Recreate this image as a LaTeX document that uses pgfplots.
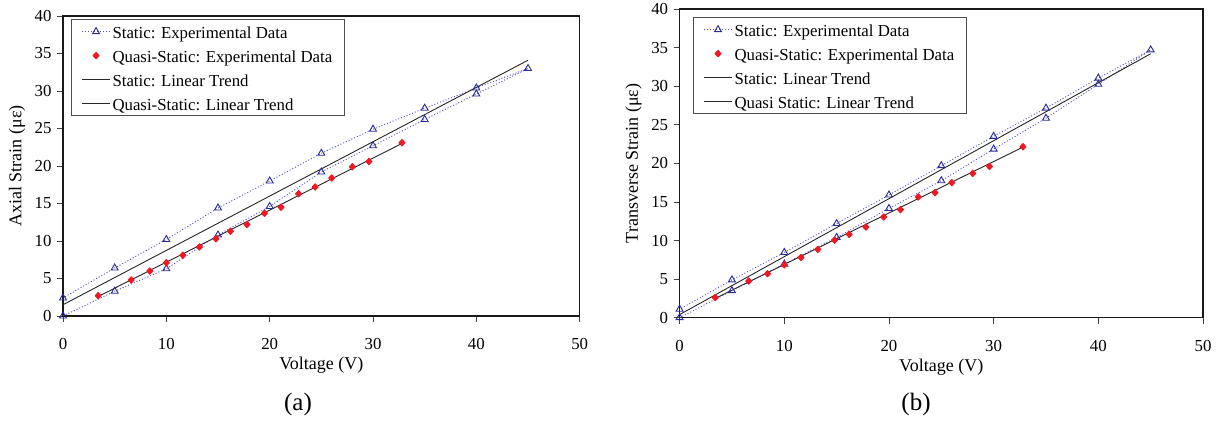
\documentclass[border=0pt]{standalone}
\usepackage{fontspec}
\setmainfont{Liberation Serif}
\usepackage{pgfplots}
\pgfplotsset{compat=1.18}
\definecolor{sblue}{RGB}{40,40,155}
\definecolor{dblue}{RGB}{80,80,200}
\definecolor{qred}{RGB}{240,25,35}
\begin{document}
\begin{tikzpicture}[x=1pt,y=1pt]
\pgfplotsset{
  myax/.style={
    scale only axis, anchor=origin,
    xmin=0,xmax=50,ymin=0,ymax=40,
    xtick={0,10,...,50}, ytick={0,5,...,40},
    tick align=outside, major tick length=6pt, tick pos=left,
    tick style={black!75, line width=0.8pt},
    /pgf/number format/assume math mode=true,
    ticklabel style={font=\fontsize{16.8}{18}\selectfont},
    xticklabel style={yshift=-13pt},
    yticklabel style={xshift=-2pt},
    label style={font=\fontsize{18}{20}\selectfont},
    xlabel style={at={(axis description cs:0.5,0)}, anchor=center, yshift=-49pt},
    ylabel style={at={(axis description cs:0,0.5)}, anchor=center, yshift=46pt},
    axis line style={black!90, line width=1.2pt},
    legend cell align=left,
    legend style={font=\fontsize{16.8}{18}\selectfont, draw=black!70, line width=1.2pt,
      inner xsep=10pt, inner ysep=4pt, row sep=8pt, column sep=0pt,
      nodes={inner xsep=2pt, inner ysep=0pt, text height=15pt, text depth=1pt}},
    legend image code/.code={\draw[mark repeat=2,mark phase=2,##1] plot coordinates {(0pt,0pt) (14pt,0pt) (28pt,0pt)};},
    sdata/.style={dblue, line width=0.9pt, dash pattern=on 1pt off 2pt, mark=triangle, mark size=4pt, mark options={solid, sblue, line width=0.9pt}},
    qdata/.style={only marks, mark=diamond*, mark size=3.2pt, mark options={qred, fill=qred, line width=1pt, line join=round, xscale=1.25}},
    trend/.style={black!85, line width=0.9pt, no marks},
  },
}
\path (0,0) rectangle (1227,422);
\begin{axis}[myax, at={(63pt,107pt)}, width=516.7pt, height=300pt,
  xlabel={Voltage (V)}, ylabel={Axial Strain (με)},
  legend style={at={(0.0155,0.99)}, anchor=north west}]
\addplot[sdata] coordinates {
(0,0) (5,3.3) (10,6.3) (15,10.8) (20,14.6) (25,19.2) (30,22.7) (35,26.2) (40,29.6) (45,33.0)
(40,30.4) (35,27.7) (30,24.9) (25,21.7) (20,18.0) (15,14.4) (10,10.2) (5,6.4) (0,2.4)};
\addlegendentry{Static: Experimental Data}
\addplot[qdata] coordinates {
(3.4,2.7) (6.6,4.8) (8.4,6.0) (10.0,7.1) (11.6,8.1) (13.2,9.2) (14.8,10.3) (16.2,11.3)
(17.8,12.2) (19.5,13.7) (21.1,14.5) (22.8,16.3) (24.4,17.2) (26.0,18.4) (28.0,19.9) (29.6,20.6) (32.8,23.1)};
\addlegendentry{Quasi-Static: Experimental Data}
\addplot[trend] coordinates {(0,1.5) (45,34.1)};
\addlegendentry{Static: Linear Trend}
\addplot[trend] coordinates {(3.4,2.6) (32.8,23.0)};
\addlegendentry{Quasi-Static: Linear Trend}
\end{axis}
\begin{axis}[myax, at={(679.6pt,105.3pt)}, width=523.4pt, height=308.7pt,
  xlabel={Voltage (V)}, ylabel={Transverse Strain (με)},
  legend style={at={(0.0256,0.974)}, anchor=north west}]
\addplot[sdata] coordinates {
(0,0) (5,3.5) (10,6.95) (15,10.4) (20,14.15) (25,17.75) (30,21.85) (35,25.85) (40,30.25) (45,34.7)
(40,31.05) (35,27.15) (30,23.5) (25,19.7) (20,15.9) (15,12.2) (10,8.45) (5,4.9) (0,1.1)};
\addlegendentry{Static: Experimental Data}
\addplot[qdata] coordinates {
(3.4,2.6) (6.6,4.75) (8.4,5.7) (10.0,6.85) (11.6,7.8) (13.2,8.85) (14.8,10.05) (16.2,10.8)
(17.8,11.75) (19.5,13.05) (21.1,14.0) (22.8,15.65) (24.4,16.2) (26.0,17.5) (28.0,18.7) (29.6,19.6) (32.8,22.15)};
\addlegendentry{Quasi-Static: Experimental Data}
\addplot[trend] coordinates {(0,0.4) (45,34.2)};
\addlegendentry{Static: Linear Trend}
\addplot[trend] coordinates {(3.4,2.5) (32.8,22.1)};
\addlegendentry{Quasi Static: Linear Trend}
\end{axis}
\node[font=\fontsize{25}{27}\selectfont] at (298,19) {(a)};
\node[font=\fontsize{25}{27}\selectfont] at (916,19) {(b)};
\end{tikzpicture}
\end{document}
